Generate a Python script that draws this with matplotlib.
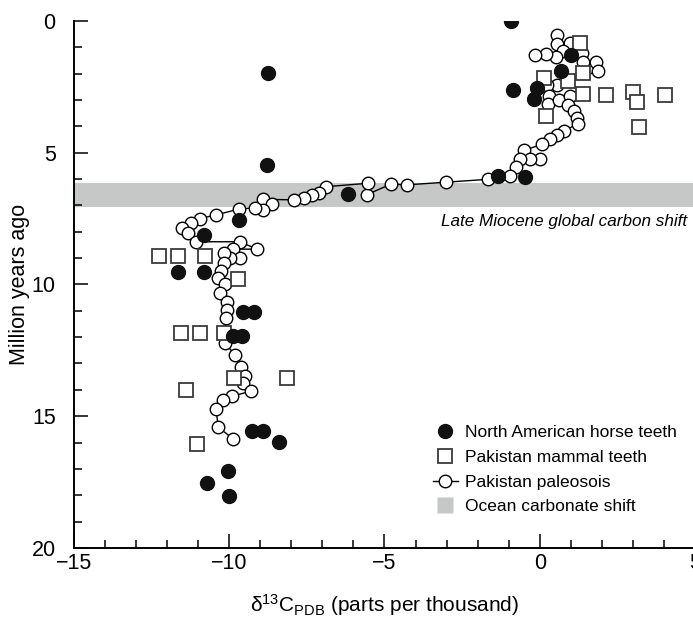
import numpy as np
import matplotlib.pyplot as plt
from matplotlib.lines import Line2D
from matplotlib.ticker import MultipleLocator

plt.rcParams['font.family'] = ['Liberation Sans', 'DejaVu Sans']
plt.rcParams['mathtext.default'] = 'regular'

# ----- data -----
# North American horse teeth (d13C, Ma)
horse_d13c = [-0.91, -8.75, 0.99, 0.69, -0.86, -0.10, -0.18, -8.79, -1.33, -0.49,
              -6.17, -9.67, -10.82, -11.64, -10.81, -9.55, -9.20, -9.89, -9.60,
              -9.26, -8.90, -8.39, -10.05, -10.70, -10.01]
horse_age = [0.0, 1.97, 1.31, 1.88, 2.62, 2.55, 2.96, 5.47, 5.88, 5.93,
             6.58, 7.57, 8.11, 9.51, 9.51, 11.03, 11.03, 11.95, 11.95,
             15.55, 15.55, 15.97, 17.07, 17.54, 18.03]

# Pakistan mammal teeth
mammal_d13c = [1.31, 0.13, 0.92, 1.38, 1.38, 2.14, 2.99, 3.12, 4.04, 3.18, 0.19,
               -12.26, -11.64, -10.77, -9.71, -11.56, -10.94, -10.16, -9.85, -8.15,
               -11.40, -11.03]
mammal_age = [0.84, 2.15, 2.28, 1.99, 2.77, 2.81, 2.69, 3.07, 2.81, 4.04, 3.62,
              8.92, 8.92, 8.93, 9.80, 11.85, 11.85, 11.85, 13.54, 13.54,
              14.00, 16.06]

# Pakistan paleosols, in section order
paleo_d13c = [0.54, 0.54, 0.98, 0.76, 0.51, 0.19, -0.14, 1.37, 1.39, 1.82, 1.89,
              0.54, 0.23, 0.30, 0.28, 0.61, 0.96, 0.90, 1.11, 1.20, 1.22,
              0.79, 0.55, 0.32, 0.08, -0.51, 0.01, -0.32, -0.63, -0.75, -0.96,
              -1.66, -3.03, -4.28, -4.79, -5.56, -5.52, -6.89, -7.12, -7.32, -7.59,
              -7.91, -8.90, -8.63, -8.90, -9.17, -9.68, -10.42, -10.94, -11.23,
              -11.52, -11.31, -11.06, -9.65, -9.11, -9.86, -9.65, -9.97, -10.16,
              -10.17, -10.27, -10.35, -10.14, -10.30, -10.08, -10.08, -10.10,
              -10.13, -9.81, -9.62, -9.49, -9.54, -9.30, -9.92, -10.19, -10.42,
              -10.35, -9.86]
paleo_age = [0.54, 0.89, 0.82, 1.15, 1.37, 1.25, 1.30, 1.21, 1.56, 1.55, 1.90,
             2.44, 2.44, 2.85, 3.17, 2.99, 2.85, 3.19, 3.42, 3.70, 3.91,
             4.16, 4.31, 4.48, 4.68, 4.91, 5.24, 5.24, 5.25, 5.55, 5.87,
             6.01, 6.12, 6.22, 6.19, 6.59, 6.16, 6.29, 6.52, 6.60, 6.71,
             6.79, 6.77, 6.96, 7.17, 7.09, 7.14, 7.36, 7.50, 7.65,
             7.87, 8.06, 8.38, 8.38, 8.66, 8.66, 8.98, 9.01, 8.82,
             9.20, 9.48, 9.76, 9.98, 10.33, 10.65, 10.97, 11.28,
             12.23, 12.68, 13.12, 13.46, 13.76, 14.05, 14.25, 14.40, 14.74,
             15.42, 15.87]

# ocean carbonate shift (Ma)
shift_start, shift_end = 6.15, 7.05

BAND = '#c6c7c7'

# ----- plot -----
fig = plt.figure(figsize=(6.93, 6.17), dpi=100)
ax = fig.add_axes([0.1065, 0.112, 0.8965, 0.854])

ax.axhspan(shift_start, shift_end, color=BAND, lw=0, zorder=0)

h_paleo, = ax.plot(paleo_d13c, paleo_age, '-o', color='black', lw=1.0, ms=9,
                   mfc='white', mec='black', mew=1.0, zorder=2)
h_mammal, = ax.plot(mammal_d13c, mammal_age, 's', ls='none', ms=9.5,
                    mfc='white', mec='#3a3a3a', mew=1.3, zorder=3)
h_horse, = ax.plot(horse_d13c, horse_age, 'o', ls='none', ms=10,
                   color='#111111', zorder=4)

ax.text(4.76, 7.6, 'Late Miocene global carbon shift', ha='right', va='center',
        style='italic', fontsize=12.3)

ax.set_xlim(-15, 5)
ax.set_ylim(20, 0)
ax.set_xticks(np.arange(-15, 6, 5))
ax.set_yticks(np.arange(0, 21, 5))
ax.xaxis.set_minor_locator(MultipleLocator(1))
ax.yaxis.set_minor_locator(MultipleLocator(1))
ax.tick_params(which='both', direction='in', width=1.1, labelsize=15.5)
ax.tick_params(which='major', length=10)
ax.tick_params(which='minor', length=6)
ax.tick_params(axis='y', pad=13)
ax.tick_params(axis='x', pad=4)

for s in ('top', 'right'):
    ax.spines[s].set_visible(False)
for s in ('left', 'bottom'):
    ax.spines[s].set_linewidth(1.4)

ax.set_ylabel('Million years ago', fontsize=15.5, labelpad=1)
ax.set_xlabel('\u03b4$^{13}$C$_{PDB}$ (parts per thousand)', fontsize=15, labelpad=13)

band_proxy = Line2D([], [], marker='s', ls='none', ms=11, mfc=BAND, mec='none')
ax.legend([h_horse, h_mammal, h_paleo, band_proxy],
          ['North American horse teeth', 'Pakistan mammal teeth',
           'Pakistan paleosois', 'Ocean carbonate shift'],
          loc='lower right', bbox_to_anchor=(0.984, 0.047), frameon=False,
          borderpad=0, fontsize=12.5, handlelength=1.4, handletextpad=0.4,
          labelspacing=0.55)

fig.savefig('out.png', dpi=100)
